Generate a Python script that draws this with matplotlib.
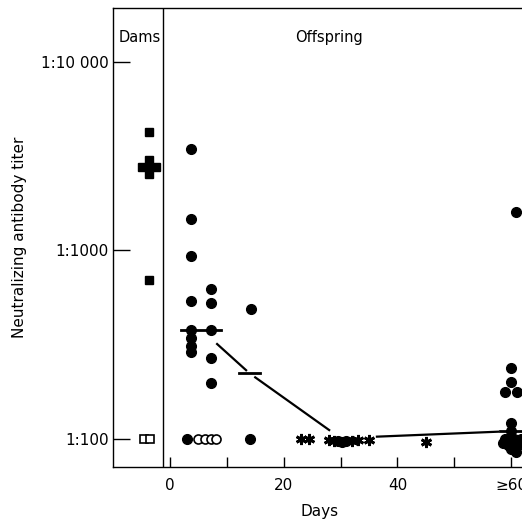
import numpy as np
import matplotlib
matplotlib.use("Agg")
import matplotlib.pyplot as plt

# dams (plotted left of day 0)
dam_filled_x = [-3.7, -3.7, -4.9, -3.7, -2.5, -3.7, -3.7]
dam_filled_y = [4270, 3020, 2780, 2780, 2780, 2540, 700]
dam_open_x = [-4.5, -3.5]
dam_open_y = [100, 100]

# offspring, filled circles
circ_x = [3.7, 3.7, 3.7, 3.7, 3.7, 3.7, 3.7, 3.7, 3.0,
          7.3, 7.3, 7.3, 7.3, 7.3,
          14.2, 14.0,
          29.5, 30.3, 31.0,
          60.8, 60.0, 60.0, 59.0, 61.0, 60.0, 60.0,
          59.0, 60.5, 61.8, 59.5, 61.0, 60.0, 58.6, 60.8]
circ_y = [3470, 1460, 930, 540, 380, 342, 310, 288, 100,
          622, 525, 380, 268, 198,
          490, 100,
          98, 96, 98,
          1600, 238, 200, 177, 177, 122, 110,
          100, 100, 100, 93, 92, 88, 95, 85]

# offspring, open circles
open_x = [5.0, 6.2, 7.3, 8.1]
open_y = [100, 100, 100, 100]

# offspring, asterisks
star_x = [23.0, 24.5, 28.0, 28.8, 32.0, 33.0, 35.0, 45.0]
star_y = [100, 100, 99, 97, 97, 99, 99, 96]

# group medians
median_x = [5.5, 14.0, 30.0, 60.0]
median_y = [380, 223, 101, 110]
median_w = [3.5, 1.8, 1.5, 1.9]
# visible pieces of the line joining the medians (days)
link_x0 = [8.3, 15.0, 36.4]
link_x1 = [13.4, 28.0, 57.7]

fig = plt.figure(figsize=(5.22, 5.20), dpi=100)
ax = fig.add_axes([0.2165, 0.1019, 0.79, 0.8827])
ax.set_yscale("log")
ax.set_xlim(-10, 62.5)
ax.set_ylim(71, 19300)

ax.plot(dam_filled_x, dam_filled_y, "s", color="black", ms=6, zorder=3)
ax.plot(dam_open_x, dam_open_y, "s", mfc="white", mec="black", mew=1.2, ms=6, zorder=3)
ax.plot(circ_x, circ_y, "o", color="black", ms=7, zorder=3)
ax.plot(open_x, open_y, "o", mfc="white", mec="black", mew=1.2, ms=6.5, zorder=3)
ax.plot(star_x, star_y, marker=(6, 2, 0), ls="none", color="black", ms=8, mew=2, zorder=3)

# median dashes
for mx, my, w in zip(median_x, median_y, median_w):
    ax.plot([mx - w, mx + w], [my, my], color="black", lw=2, zorder=4)
# connecting line, interpolated in log space between medians
log_med = np.log10(median_y)
for x0, x1 in zip(link_x0, link_x1):
    xs = np.array([x0, x1])
    ys = 10 ** np.interp(xs, median_x, log_med)
    ax.plot(xs, ys, color="black", lw=1.6, zorder=2)

# separator between dams and offspring
ax.axvline(-1.2, color="black", lw=1)

ax.text(-9, 13500, "Dams", fontsize=10.5, va="center", ha="left")
ax.text(28, 13500, "Offspring", fontsize=10.5, va="center", ha="center")

ax.set_yticks([100, 1000, 10000])
ax.set_yticklabels(["1:100", "1:1000", "1:10 000"])
ax.yaxis.set_minor_locator(matplotlib.ticker.NullLocator())
ax.set_xticks([0, 10, 20, 30, 40, 50, 60])
ax.set_xticklabels(["0", "", "20", "", "40", "", "\u226560"])
ax.tick_params(axis="y", direction="in", length=12, width=1, labelsize=11, pad=3)
ax.tick_params(axis="x", direction="in", length=7, width=1, labelsize=11, pad=8)

ax.spines["right"].set_visible(False)
for s in ["left", "bottom", "top"]:
    ax.spines[s].set_linewidth(1)

ax.set_xlabel("Days", fontsize=11, labelpad=8)
ax.set_ylabel("Neutralizing antibody titer", fontsize=11, labelpad=10)

fig.savefig("out.png", dpi=100)
